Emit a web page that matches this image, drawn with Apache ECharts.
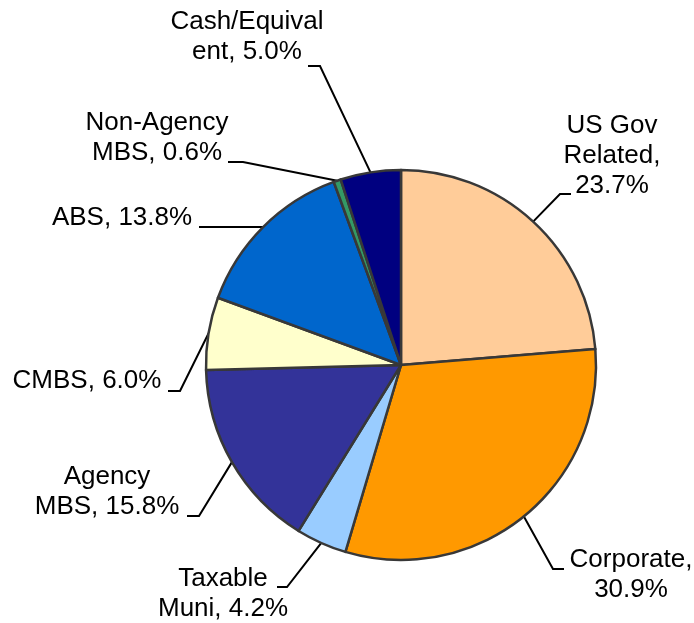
<!DOCTYPE html>
<html>
<head>
<meta charset="utf-8">
<script src="https://cdn.jsdelivr.net/npm/echarts@6/dist/echarts.min.js"></script>
<style>
  html, body { margin: 0; padding: 0; background: #fff; }
  #chart { width: 694px; height: 623px; }
</style>
</head>
<body>
<div id="chart"></div>
<script>
// sectors, clockwise from 12 o'clock
const categories = ['US Gov Related', 'Corporate', 'Taxable Muni', 'Agency MBS', 'CMBS', 'ABS', 'Non-Agency MBS', 'Cash/Equivalent'];
const shares = [23.7, 30.9, 4.2, 15.8, 6.0, 13.8, 0.6, 5.0];
// label text as it wraps in the original
const labelNames = ['US Gov\nRelated', 'Corporate', 'Taxable\nMuni', 'Agency\nMBS', 'CMBS', 'ABS', 'Non-Agency\nMBS', 'Cash/Equival\nent'];
const breakBeforeValue = [true, true, false, false, false, false, false, false];
const colors = ['#FFCC99', '#FF9900', '#99CCFF', '#333399', '#FFFFCC', '#0066CC', '#339966', '#000080'];

const CX = 401, CY = 365, R = 195;
// where each label block sits: centre x/y, leader join x/y, elbow length
const labelSpots = [
  [612, 156, 571, 194, 11],
  [631, 575, 564, 569, 11],
  [223, 594, 277, 587, 10],
  [107, 492, 187, 516, 12],
  [87, 381, 168, 391, 12],
  [122, 218, 199, 227, 30],
  [157, 138, 228, 162, 15],
  [247, 37, 308, 66, 12]
];

const total = shares.reduce((a, b) => a + b, 0);
const edgePoint = (i) => {
  let before = 0;
  for (let k = 0; k < i; k++) before += shares[k];
  const ang = (before + shares[i] / 2) / total * Math.PI * 2;
  return [CX + R * Math.sin(ang), CY - R * Math.cos(ang)];
};

const chart = echarts.init(document.getElementById('chart'));
chart.setOption({
  animation: false,
  backgroundColor: '#fff',
  color: colors,
  series: [{
    type: 'pie',
    center: [CX, CY],
    radius: R,
    startAngle: 90,
    clockwise: true,
    avoidLabelOverlap: false,
    itemStyle: { borderColor: '#383838', borderWidth: 2.5 },
    label: {
      show: true,
      position: 'outside',
      fontFamily: 'Liberation Sans, Arial, sans-serif',
      fontSize: 26,
      lineHeight: 30,
      color: '#000',
      formatter: (p) => labelNames[p.dataIndex] + ',' + (breakBeforeValue[p.dataIndex] ? '\n' : ' ') + p.value.toFixed(1) + '%'
    },
    labelLine: { show: true, lineStyle: { color: '#000', width: 2 } },
    labelLayout: (p) => {
      const s = labelSpots[p.dataIndex];
      const dir = s[2] > s[0] ? 1 : -1;
      return {
        x: s[0],
        y: s[1],
        align: 'center',
        verticalAlign: 'middle',
        labelLinePoints: [edgePoint(p.dataIndex), [s[2] + dir * s[4], s[3]], [s[2], s[3]]]
      };
    },
    emphasis: { disabled: true },
    data: categories.map((name, i) => ({ name, value: shares[i] }))
  }]
});
</script>
</body>
</html>
